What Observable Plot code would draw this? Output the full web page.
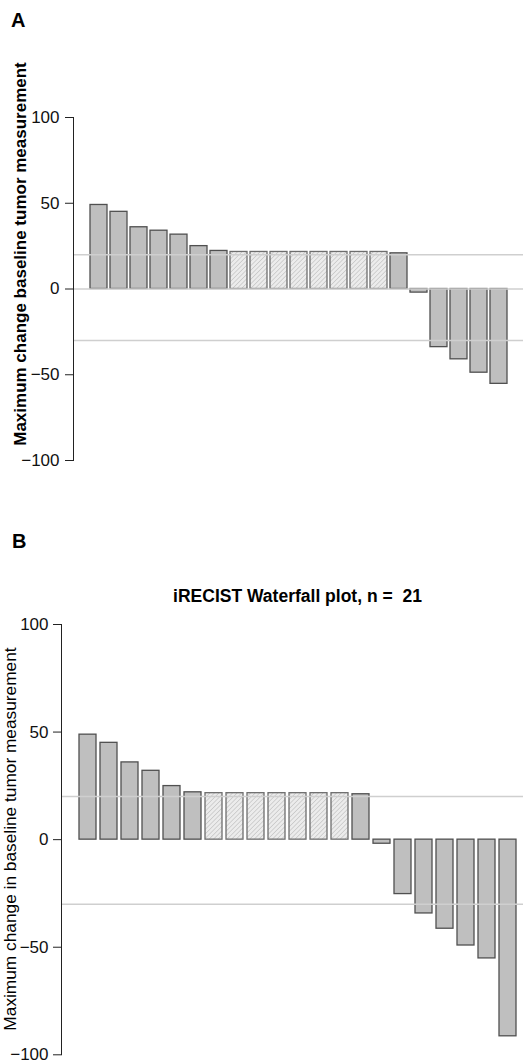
<!DOCTYPE html>
<html><head><meta charset="utf-8">
<script src="https://cdn.jsdelivr.net/npm/d3@7"></script>
<script src="https://cdn.jsdelivr.net/npm/@observablehq/plot@0.6"></script>
<style>
body{margin:0;background:#fff;font-family:"Liberation Sans",Arial,sans-serif;}
#wrap{position:relative;width:523px;height:1063px;overflow:hidden;background:#fff;}
.abs{position:absolute;white-space:nowrap;color:#000;}
.panel{position:absolute;left:0;}
.ylab{position:absolute;transform:translate(-50%,-50%) rotate(-90deg);white-space:nowrap;line-height:1;color:#000;}
.edge{position:absolute;width:1px;background:#eeeeee;}
</style></head><body>
<div id="wrap">
  <div class="edge" style="left:3px;top:57px;height:435px"></div>
  <div class="edge" style="left:3px;top:575px;height:488px"></div>
  <div id="panelA" class="panel" style="top:0px"></div>
  <div id="panelB" class="panel" style="top:500px"></div>
  <div class="abs" style="left:11px;top:10px;font-size:20px;font-weight:bold;line-height:20px">A</div>
  <div class="abs" style="left:12px;top:531px;font-size:20px;font-weight:bold;line-height:20px">B</div>
  <div class="abs" style="left:297.5px;top:588px;transform:translateX(-50%);font-size:17.5px;font-weight:bold;line-height:17.5px">iRECIST Waterfall plot, n =&nbsp; 21</div>
  <div class="ylab" style="left:20px;top:253.5px;font-size:17px;font-weight:bold">Maximum change baseline tumor measurement</div>
  <div class="ylab" style="left:10.5px;top:839px;font-size:17.3px">Maximum change in baseline tumor measurement</div>
</div>
<script>
// ---- data ----
const patients = [1,2,3,4,5,6,7,8,9,10,11,12,13,14,15,16,17,18,19,20,21];
const valuesA = [49, 45, 36, 34, 31.7, 25, 22.2, 21.6, 21.6, 21.6, 21.6, 21.6, 21.6, 21.6, 21.6, 20.8, -2.1, -33.9, -41, -48.8, -55.3];
const hatchedA = [0,0,0,0,0,0,0,1,1,1,1,1,1,1,1,0,0,0,0,0,0];
const valuesB = [48.8, 45, 35.9, 32, 24.9, 22, 21.6, 21.6, 21.6, 21.6, 21.6, 21.6, 21.6, 21.1, -1.9, -25.3, -34.3, -41.4, -49.2, -55.2, -91.4];
const hatchedB = [0,0,0,0,0,0,1,1,1,1,1,1,1,0,0,0,0,0,0,0,0];
const yTicks = [-100, -50, 0, 50, 100];
const refLinesA = [0, 20, -30];
const refLinesB = [20, -30];

const solidFill = "#bfbfbf";
const solidStroke = "#505050";
const hatchStroke = "#6e6e6e";
const fmt = d => d < 0 ? "\u2212" + Math.abs(d) : String(d);

function addPattern(svgEl, id) {
  const ns = "http://www.w3.org/2000/svg";
  const defs = document.createElementNS(ns, "defs");
  const pat = document.createElementNS(ns, "pattern");
  pat.setAttribute("id", id);
  pat.setAttribute("patternUnits", "userSpaceOnUse");
  pat.setAttribute("width", "3.2");
  pat.setAttribute("height", "3.2");
  pat.setAttribute("patternTransform", "rotate(45)");
  const bg = document.createElementNS(ns, "rect");
  bg.setAttribute("width", "3.2"); bg.setAttribute("height", "3.2"); bg.setAttribute("fill", "#ececec");
  const ln = document.createElementNS(ns, "line");
  ln.setAttribute("x1", "0"); ln.setAttribute("y1", "0"); ln.setAttribute("x2", "0"); ln.setAttribute("y2", "3.2");
  ln.setAttribute("stroke", "#b4b4b4"); ln.setAttribute("stroke-width", "1");
  pat.appendChild(bg); pat.appendChild(ln); defs.appendChild(pat);
  svgEl.insertBefore(defs, svgEl.firstChild);
}

function panel(values, hatched, refs, opts) {
  const data = patients.map((p, i) => ({id: p, value: values[i], hatched: hatched[i] === 1}));
  const chart = Plot.plot({
    width: 523,
    height: opts.height,
    marginLeft: opts.left,
    marginRight: 0,
    marginTop: opts.top,
    marginBottom: opts.bottom,
    style: {fontFamily: '"Liberation Sans", Arial, sans-serif', fontSize: "17px", background: "white", color: "#111"},
    x: {type: "band", domain: patients, range: opts.xRange, paddingInner: opts.pad, paddingOuter: 0, align: 0, axis: null},
    y: {domain: [-100, 100], ticks: yTicks},
    marks: [
      Plot.barY(data.filter(d => !d.hatched), {x: "id", y: "value", fill: solidFill, stroke: solidStroke, strokeWidth: 1.3}),
      Plot.barY(data.filter(d => d.hatched), {x: "id", y: "value", fill: `url(#${opts.pid})`, stroke: hatchStroke, strokeWidth: 1.3}),
      Plot.ruleY(refs, {stroke: "#cfcfcf", strokeWidth: 1.5}),
      Plot.frame({anchor: "left", stroke: "#222", strokeWidth: 1}),
      Plot.axisY({ticks: yTicks, tickFormat: fmt, tickSize: 8, tickPadding: opts.tickPad, label: null, fontSize: 17, stroke: "#222", color: "#111"})
    ]
  });
  const svgEl = chart.tagName.toLowerCase() === "svg" ? chart : chart.querySelector("svg");
  addPattern(svgEl, opts.pid);
  return chart;
}

document.getElementById("panelA").appendChild(panel(valuesA, hatchedA, refLinesA, {
  height: 500, left: 73, top: 117, bottom: 40, xRange: [90, 510.2], pad: 0.17, tickPad: 6, pid: "hatchA"
}));
document.getElementById("panelB").appendChild(panel(valuesB, hatchedB, refLinesB, {
  height: 563, left: 61, top: 124, bottom: 8.7, xRange: [79, 520.7], pad: 0.18, tickPad: 5, pid: "hatchB"
}));
</script>
</body></html>
